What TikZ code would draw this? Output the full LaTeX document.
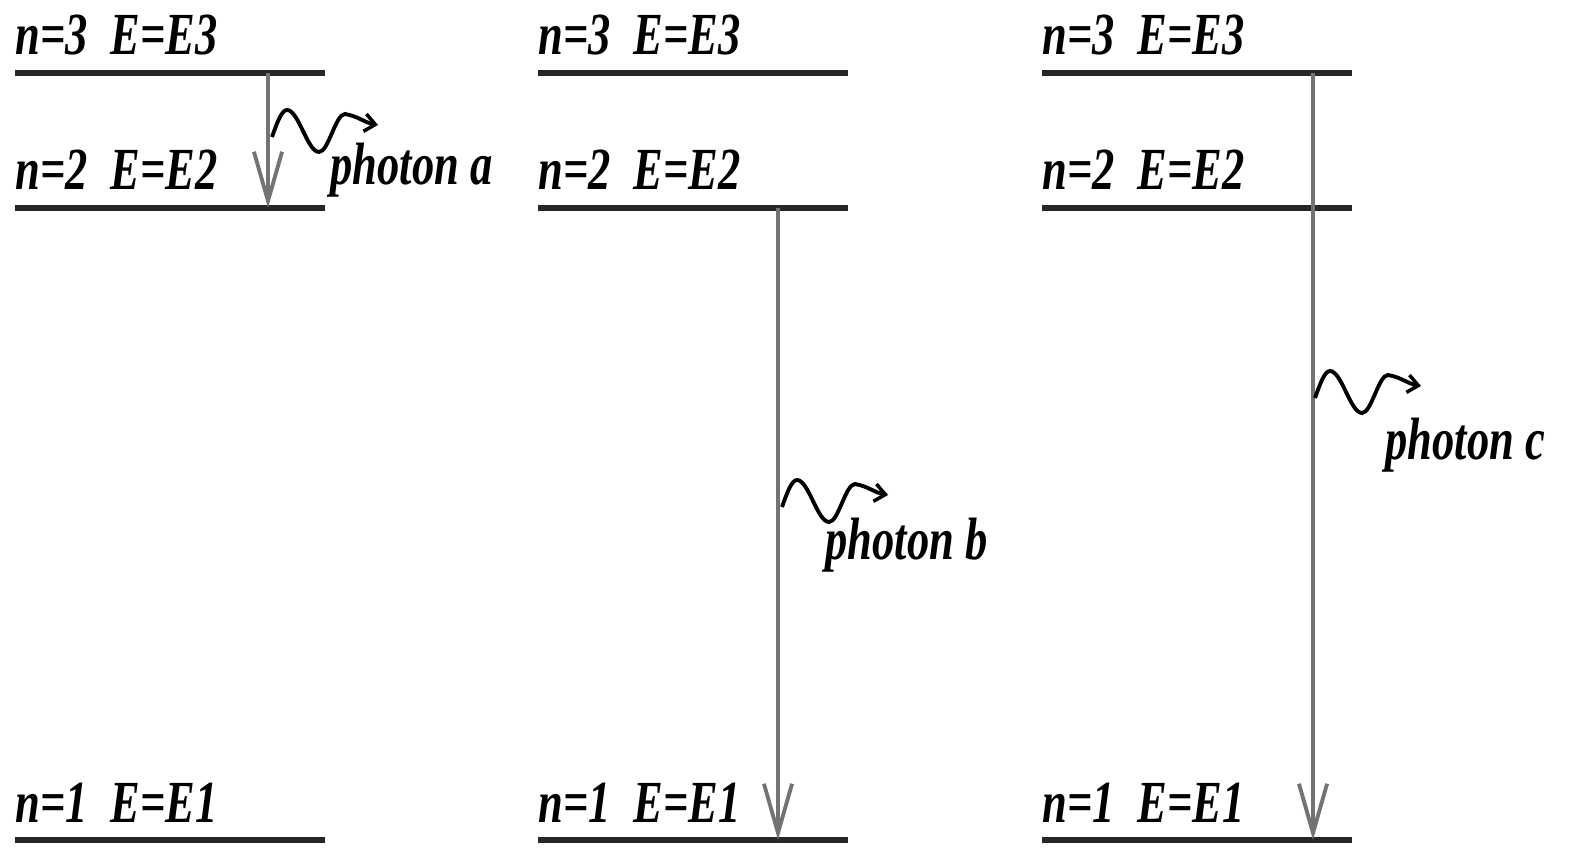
\documentclass[tikz,border=0pt]{standalone}
\usepackage{fontspec}
\setmainfont{Liberation Serif}
\newfontfamily\levelfont[FakeStretch=0.745]{Liberation Serif}
\usepackage{tikz}
\usetikzlibrary{arrows.meta}

\begin{document}
\begin{tikzpicture}[
    lvl/.style={line width=1.6pt, black!85},
    lbl/.style={anchor=base west, inner sep=0pt,
                font=\levelfont\bfseries\itshape\fontsize{17}{17}\selectfont},
    trans/.style={-{Straight Barb[length=14pt, width=8pt, line width=1.1pt]},
                  line width=0.9pt, black!55},
    % wavy photon leaving the transition arrow
    photon/.style={-{Straight Barb[length=3pt, width=5pt, line width=1pt]},
                   line width=1.1pt, black},
    wiggle/.style={insert path={sin ++(0.15,0.27) cos ++(0.16,-0.21) sin ++(0.16,-0.21)
                   cos ++(0.13,0.19) sin ++(0.13,0.19) to[out=-10,in=170] ++(0.33,-0.11)}},
]
    \useasboundingbox (0,0) rectangle (15.71,8.49);

    % energy levels n=3, n=2, n=1 in three columns
    \foreach \col/\x in {a/0.15, b/5.38, c/10.42} {
      \foreach \n/\y in {3/7.76, 2/6.41, 1/0.09} {
        \draw[lvl] (\x,\y) -- ++(3.1,0);
        \node[lbl] (\col-n\n) at (\x,\y+0.18) {n=\n\ \ E=E\n};
      }
    }

    % transition end points
    \coordinate (a-top) at (2.68,7.76);
    \coordinate (a-bot) at (2.68,6.41);
    \coordinate (b-top) at (7.78,6.41);
    \coordinate (b-bot) at (7.78,0.09);
    \coordinate (c-top) at (13.13,7.76);
    \coordinate (c-bot) at (13.13,0.09);

    % downward transitions
    \draw[trans] (a-top) -- (a-bot);
    \draw[trans] (b-top) -- (b-bot);
    \draw[trans] (c-top) -- (c-bot);

    % emitted photons
    \coordinate (a-emit) at (2.72,7.12);
    \coordinate (b-emit) at (7.82,3.42);
    \coordinate (c-emit) at (13.15,4.51);
    \draw[photon] (a-emit) [wiggle];
    \draw[photon] (b-emit) [wiggle];
    \draw[photon] (c-emit) [wiggle];

    \node[lbl] (a-label) at (3.30,6.64) {photon a};
    \node[lbl] (b-label) at (8.25,2.89) {photon b};
    \node[lbl] (c-label) at (13.85,3.89) {photon c};
\end{tikzpicture}
\end{document}
